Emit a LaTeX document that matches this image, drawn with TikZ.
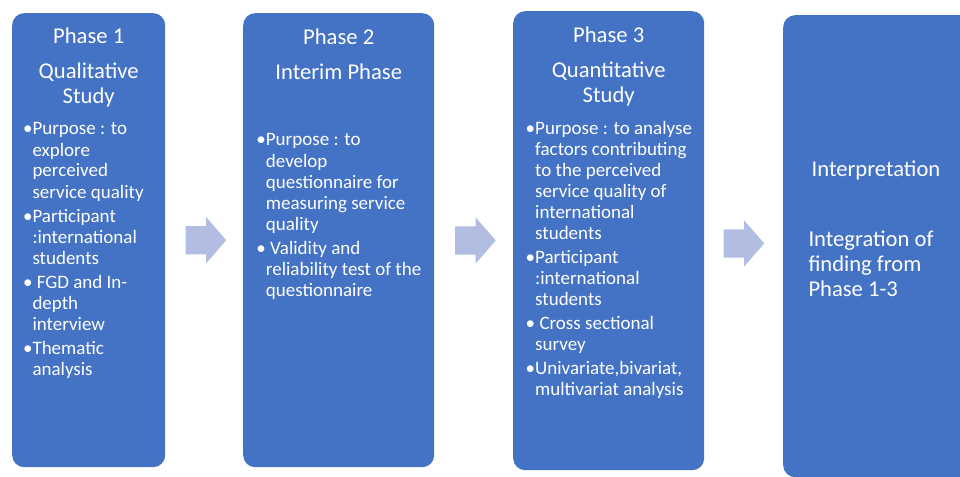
\documentclass[tikz,border=0pt]{standalone}
\usepackage{fontspec}
\setmainfont{Carlito}
\usetikzlibrary{shapes.arrows,calc}

\definecolor{phaseblue}{HTML}{4472C4}
\definecolor{stepblue}{HTML}{B1BEE1}

\newcommand{\bl}{\makebox[8pt][r]{•}}
\newcommand{\titlefont}{\fontsize{22.6}{25}\selectfont}
\newcommand{\bodyfont}{\fontsize{19}{21}\selectfont}

\tikzset{
  phasebox/.style={rectangle, fill=phaseblue, rounded corners=12pt,
    inner sep=0pt, anchor=north west},
  stepbox/.style={single arrow, fill=stepblue, inner xsep=0pt, inner ysep=14pt,
    minimum height=40.7pt,
    single arrow head extend=9pt, single arrow tip angle=98},
  heading/.style={text=white, font=\titlefont, anchor=base, inner sep=0pt},
  items/.style={text=white, font=\bodyfont, anchor=base west, inner sep=0pt},
}

\begin{document}
\begin{tikzpicture}[x=1pt,y=-1pt]
  \useasboundingbox (0,0) rectangle (960,476);
  \fill[white] (0,0) rectangle (960,476);
  \clip (0,0) rectangle (960,476);

  % the four phase panels
  \node[phasebox, minimum width=153pt, minimum height=454pt] (p1) at (12,13) {};
  \node[phasebox, minimum width=191pt, minimum height=454pt] (p2) at (243,13) {};
  \node[phasebox, minimum width=191pt, minimum height=459pt] (p3) at (513,11) {};
  \node[phasebox, minimum width=191pt, minimum height=462pt] (p4) at (783,15) {};

  % block arrows between the panels
  \node[stepbox] (a1) at ($(p1.east)!0.5!(p2.west)+(-4.5,0)$ |- 0,240) {};
  \node[stepbox] (a2) at ($(p2.east)!0.5!(p3.west)+(-4.5,0)$ |- 0,240) {};
  \node[stepbox] (a3) at ($(p3.east)!0.5!(p4.west)+(-6,0)$ |- 0,240) {};

  % Phase 1 (multi-line headings sit on the baseline of their last line)
  \node[heading] (h1) at (p1.center |- 0,43.5) {Phase 1};
  \node[heading, align=center] (t1) at (p1.center |- 0,103.5) {Qualitative\\Study};
  \node[items] (b1) at (24.3,135) {%
    \begin{tabular}[t]{@{}l@{}l@{}}
      \bl & Purpose : to\\
          & explore\\
          & perceived\\
          & service quality\\[3.3pt]
      \bl & Participant\\
          & :international\\
          & students\\[3.3pt]
      \bl & \ FGD and In-\\
          & depth\\
          & interview\\[3.3pt]
      \bl & Thematic\\
          & analysis
    \end{tabular}};

  % Phase 2
  \node[heading] (h2) at (p2.center |- 0,44.5) {Phase 2};
  \node[heading] (t2) at (p2.center |- 0,79.5) {Interim Phase};
  \node[items] (b2) at (257.7,146) {%
    \begin{tabular}[t]{@{}l@{}l@{}}
      \bl & Purpose : to\\
          & develop\\
          & questionnaire for\\
          & measuring service\\
          & quality\\[3.3pt]
      \bl & \ Validity and\\
          & reliability test of the\\
          & questionnaire
    \end{tabular}};

  % Phase 3
  \node[heading] (h3) at (p3.center |- 0,42.5) {Phase 3};
  \node[heading, align=center] (t3) at (p3.center |- 0,102.5) {Quantitative\\Study};
  \node[items] (b3) at (527,134) {%
    \begin{tabular}[t]{@{}l@{}l@{}}
      \bl & Purpose : to analyse\\
          & factors contributing\\
          & to the perceived\\
          & service quality of\\
          & international\\
          & students\\[3.3pt]
      \bl & Participant\\
          & :international\\
          & students\\[3.3pt]
      \bl & \ Cross sectional\\
          & survey\\[3.3pt]
      \bl & Univariate,bivariat,\\
          & multivariat analysis
    \end{tabular}};

  % Interpretation
  \node[heading] (h4) at (876,176.5) {Interpretation};
  \node[heading, anchor=base west, align=left] (t4) at (808.3,296.5)
    {Integration of\\finding from\\Phase 1-3};
\end{tikzpicture}
\end{document}
